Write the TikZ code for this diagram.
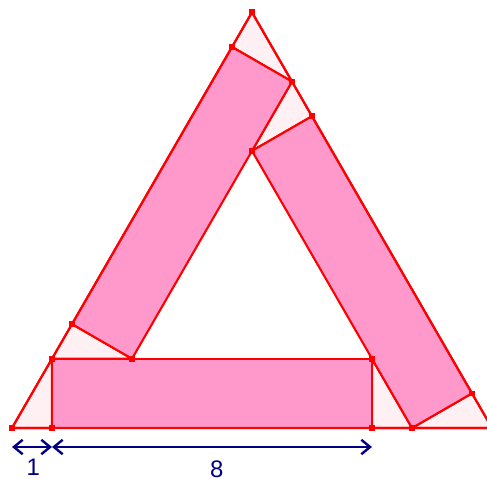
\documentclass[tikz,border=0pt]{standalone}
\usepackage{fontspec}
\setmainfont{Liberation Sans}
\usepackage{tikz}
\usetikzlibrary{arrows.meta,calc}
\definecolor{rectpink}{HTML}{FF99CC}
\definecolor{gappink}{HTML}{FFF0F3}
\definecolor{dimblue}{HTML}{000080}
\tikzset{
  rectpc/.style ={draw=red, fill=rectpink, line width=1.5pt, line join=round},
  gap/.style    ={draw=red, fill=gappink, line width=1.5pt, line join=round},
  pt/.style     ={fill=red, inner sep=0pt, minimum size=4pt, rectangle},
  dim/.style    ={{Straight Barb[length=2.2mm,width=3.6mm]}-{Straight Barb[length=2.2mm,width=3.6mm]}, draw=dimblue, line width=1.7pt},
  lbl/.style    ={text=dimblue, font=\fontsize{17}{19}\selectfont, inner sep=0pt},
}

\begin{document}
\begin{tikzpicture}
  \useasboundingbox (-0.3,-1.275) rectangle (11.875,10.7);

  % outer triangle
  \coordinate (A) at (0,0);
  \coordinate (B) at (12,0);
  \coordinate (C) at (6,{6*sqrt(3)});
  % bottom bar
  \coordinate (P1) at (1,0);
  \coordinate (P2) at (9,0);
  \coordinate (P3) at (9,{sqrt(3)});
  \coordinate (P4) at (1,{sqrt(3)});
  % left bar
  \coordinate (Q1) at (1.5,{1.5*sqrt(3)});
  \coordinate (Q2) at (5.5,{5.5*sqrt(3)});
  \coordinate (Q3) at (7,{5*sqrt(3)});
  \coordinate (Q4) at (3,{sqrt(3)});
  % right bar
  \coordinate (R1) at (11.5,{0.5*sqrt(3)});
  \coordinate (R2) at (7.5,{4.5*sqrt(3)});
  \coordinate (R3) at (6,{4*sqrt(3)});
  \coordinate (R4) at (10,0);

  % corner pieces
  \draw[gap] (A) -- (P1) -- (P4) -- cycle;
  \draw[gap] (P4) -- (Q1) -- (Q4) -- cycle;
  \draw[gap] (C) -- (Q2) -- (Q3) -- cycle;
  \draw[gap] (Q3) -- (R2) -- (R3) -- cycle;
  \draw[gap] (B) -- (R1) -- (R4) -- cycle;
  \draw[gap] (P2) -- (R4) -- (P3) -- cycle;

  % the three bars
  \draw[rectpc] (P1) -- (P2) -- (P3) -- (P4) -- cycle;
  \draw[rectpc] (Q1) -- (Q2) -- (Q3) -- (Q4) -- cycle;
  \draw[rectpc] (R1) -- (R2) -- (R3) -- (R4) -- cycle;
  \draw[red, line width=1.5pt, line join=round] (A) -- (B) -- (C) -- cycle;

  \foreach \p in {A,B,C,P1,P2,P3,P4,Q1,Q2,Q3,Q4,R1,R2,R3,R4}
    \node[pt] at (\p) {};

  % dimensions
  \coordinate (d0) at (0,-0.475);
  \coordinate (d1) at (1,-0.475);
  \coordinate (d2) at (9,-0.475);
  \draw[dim] (d0) -- (d1);
  \draw[dim] (d1) -- (d2);
  \node[lbl] (one)   at (0.53,-0.97) {1};
  \node[lbl] (eight) at (5.12,-1.04) {8};
\end{tikzpicture}
\end{document}
